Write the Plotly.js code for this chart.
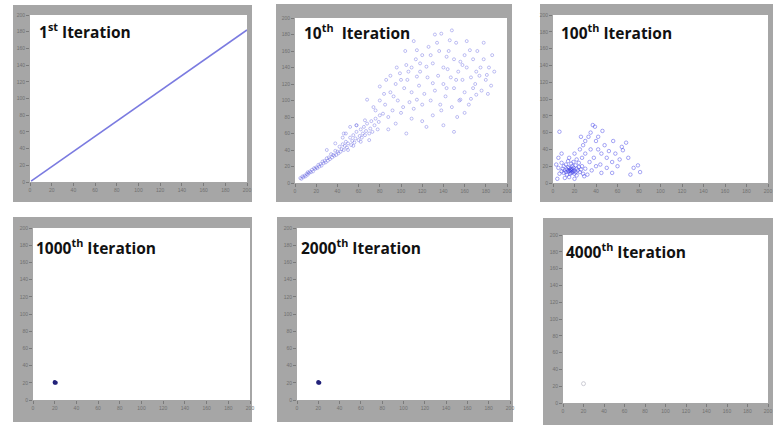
<!DOCTYPE html>
<html>
<head>
<meta charset="utf-8">
<script src="https://cdn.plot.ly/plotly-3.0.1.min.js"></script>
<style>html,body{margin:0;padding:0;background:#fff;}#chart{width:773px;height:425px;}</style>
</head>
<body>
<div id="chart"></div>
<script>
// ---------- data ----------
var titles = ["1<sup>st</sup> Iteration", "10<sup>th</sup>  Iteration", "100<sup>th</sup> Iteration",
              "1000<sup>th</sup> Iteration", "2000<sup>th</sup> Iteration", "4000<sup>th</sup> Iteration"];
var tickVals = [0, 20, 40, 60, 80, 100, 120, 140, 160, 180, 200];

// 1st iteration: all points on a line
var x1 = [1, 200];
var y1 = [1, 182];

// 10th iteration
var x2 = [5,6,7,8,9,10,11,12,12,13,14,15,16,17,18,19,20,21,22,23,24,25,26,27,28,29,30,31,32,33,34,35,36,37,38,39,40,41,42,43,44,45,46,47,48,49,50,52,53,54,55,56,57,58,60,61,62,63,64,65,66,67,68,70,71,72,73,75,76,78,79,80,
  30,38,45,50,55,62,48,58,66,70,
  52,58,46,68,74,83,80,86,93,99,102,105,115,115,115,124,124,130,138,138,143,143,146,153,156,156,165,168,171,171,181,
  85,88,90,92,95,97,100,103,106,108,110,110,112,114,117,118,120,120,122,125,126,128,130,132,134,135,137,140,140,142,145,147,148,150,150,152,154,155,158,160,160,162,164,166,168,170,172,175,176,178,180,183,185,186,96,104,112,132,148,162,178,120,140,110,95,88,130,160,150,105,90,80,76,84,100,107,118,128,136,144,152,158,166,174,182,188];
var y2 = [6,5,8,7,9,8,11,10,13,12,14,13,16,14,18,17,19,18,22,20,23,21,26,24,27,25,30,27,31,29,35,31,34,33,39,34,38,36,44,38,41,47,40,45,50,43,48,55,46,51,58,49,54,62,52,57,65,55,60,68,58,63,72,60,66,75,62,70,78,65,74,82,
  40,48,55,40,45,50,60,70,76,52,
  68,70,60,101,92,84,117,125,105,133,92,143,161,129,101,141,68,121,181,88,153,115,173,80,147,101,161,115,135,107,131,
  95,80,110,88,120,100,85,115,125,98,140,110,90,150,118,135,95,155,108,128,165,100,145,112,170,130,95,140,120,105,160,128,92,150,115,170,135,100,125,155,110,140,95,128,150,120,160,140,112,150,125,140,118,155,140,160,172,180,185,172,170,75,70,78,72,65,82,85,62,60,130,100,88,108,125,135,145,155,160,138,125,143,102,130,108,135];

// 100th iteration
var x3 = [17,16,18,15,19,17,16,18,14,20,17,15,19,13,21,12,22,16,18,14,20,11,23,10,24,13,21,9,25,17,8,26,12,22,15,27,10,19,6,28,14,24,5,30,11,20,8,29,
  37,39,35,33,30,28,40,42,45,50,55,60,65,64,79,81,70,48,52,35,25,30,38,44,58,62,75,72,55,45,40,34,27,20,15,22,32,36,50,42,46,26,3,5,4,8,68,56,6];
var y3 = [15,14,16,15,14,17,16,13,14,15,12,18,18,16,13,13,17,11,20,19,11,15,15,12,19,10,21,17,13,23,14,16,22,9,7,20,20,25,11,11,26,24,18,17,6,5,24,8,
  69,67,60,55,50,45,50,40,35,30,25,20,39,43,21,13,30,45,38,40,40,35,30,22,35,28,18,10,12,12,20,25,30,35,30,28,10,15,18,55,62,55,22,30,5,35,48,50,61];

// 1000th, 2000th, 4000th iterations: converged
var x4 = [20, 20, 21];
var y4 = [20, 21, 20];
var x5 = [20, 21, 20];
var y5 = [21, 20, 20];
var x6 = [20];
var y6 = [23];

// ---------- layout geometry (pixels) ----------
var W = 773, H = 425;
var plots = [[30,15,247,182],[295,18,507,183],[553,15,768,183],[33,228,250,400],[297,228,510,400],[563,235,768,403]];
var frames = [[13,5,252,202],[276,4,512,202],[540,4,773,202],[13,217,252,422],[277,217,513,422],[543,218,773,425]];
var titlePos = [[37,31],[302,32],[559,32],[34,247],[299,247],[564,251]];
var GRAY = '#a6a6a6';

function px(x){return x/W;}
function py(y){return 1-y/H;}

var layout = {
  width: W, height: H,
  margin: {l:0,r:0,t:0,b:0},
  paper_bgcolor: '#ffffff',
  plot_bgcolor: '#ffffff',
  showlegend: false,
  shapes: [],
  annotations: []
};

function rect(x0,y0,x1,y1){
  return {type:'rect', xref:'paper', yref:'paper', x0:px(x0), x1:px(x1), y0:py(y1), y1:py(y0),
          fillcolor:GRAY, line:{width:0}, layer:'below'};
}

for (var i=0;i<6;i++){
  var p = plots[i], f = frames[i];
  var n = i===0 ? '' : String(i+1);
  var tf = {size:5, color:'#707070', family:'Liberation Sans'};
  layout['xaxis'+n] = {
    domain:[px(p[0]), px(p[2])], range:[0,200], anchor:'y'+n,
    showgrid:false, zeroline:false, showline:false,
    ticks:'outside', ticklen:3, tickcolor:'#7a7a7a', tickwidth:1,
    tickvals:tickVals, tickfont:tf, fixedrange:true
  };
  layout['yaxis'+n] = {
    domain:[py(p[3]), py(p[1])], range:[0,200], anchor:'x'+n,
    showgrid:false, zeroline:false, showline:false,
    ticks:'outside', ticklen:3, tickcolor:'#7a7a7a', tickwidth:1,
    tickvals:tickVals, tickfont:tf, fixedrange:true
  };
  layout.shapes.push(rect(f[0],f[1],f[2],p[1]));
  layout.shapes.push(rect(f[0],p[3],f[2],f[3]));
  layout.shapes.push(rect(f[0],p[1],p[0],p[3]));
  layout.shapes.push(rect(p[2],p[1],f[2],p[3]));
  layout.annotations.push({
    xref:'paper', yref:'paper', x:px(titlePos[i][0]), y:py(titlePos[i][1]),
    xanchor:'left', yanchor:'middle', showarrow:false,
    text:titles[i], font:{family:'Open Sans', size:15.5, color:'#111111', weight:'bold'}
  });
}

var traces = [
  {x:x1, y:y1, xaxis:'x', yaxis:'y', mode:'lines', line:{color:'#7b7be0', width:1.6}, hoverinfo:'skip'},
  {x:x2, y:y2, xaxis:'x2', yaxis:'y2', mode:'markers',
   marker:{symbol:'circle-open', size:3, color:'rgba(100,100,225,0.5)', line:{width:0.8}}, hoverinfo:'skip'},
  {x:x3, y:y3, xaxis:'x3', yaxis:'y3', mode:'markers',
   marker:{symbol:'circle-open', size:3.5, color:'rgba(60,60,230,0.45)', line:{width:1}}, hoverinfo:'skip'},
  {x:x4, y:y4, xaxis:'x4', yaxis:'y4', mode:'markers',
   marker:{symbol:'circle', size:4, color:'#22227a'}, hoverinfo:'skip'},
  {x:x5, y:y5, xaxis:'x5', yaxis:'y5', mode:'markers',
   marker:{symbol:'circle', size:4, color:'#22227a'}, hoverinfo:'skip'},
  {x:x6, y:y6, xaxis:'x6', yaxis:'y6', mode:'markers',
   marker:{symbol:'circle-open', size:4, color:'rgba(160,160,175,0.5)'}, hoverinfo:'skip'}
];

Plotly.newPlot('chart', traces, layout, {staticPlot:true, displayModeBar:false});
</script>
</body>
</html>
